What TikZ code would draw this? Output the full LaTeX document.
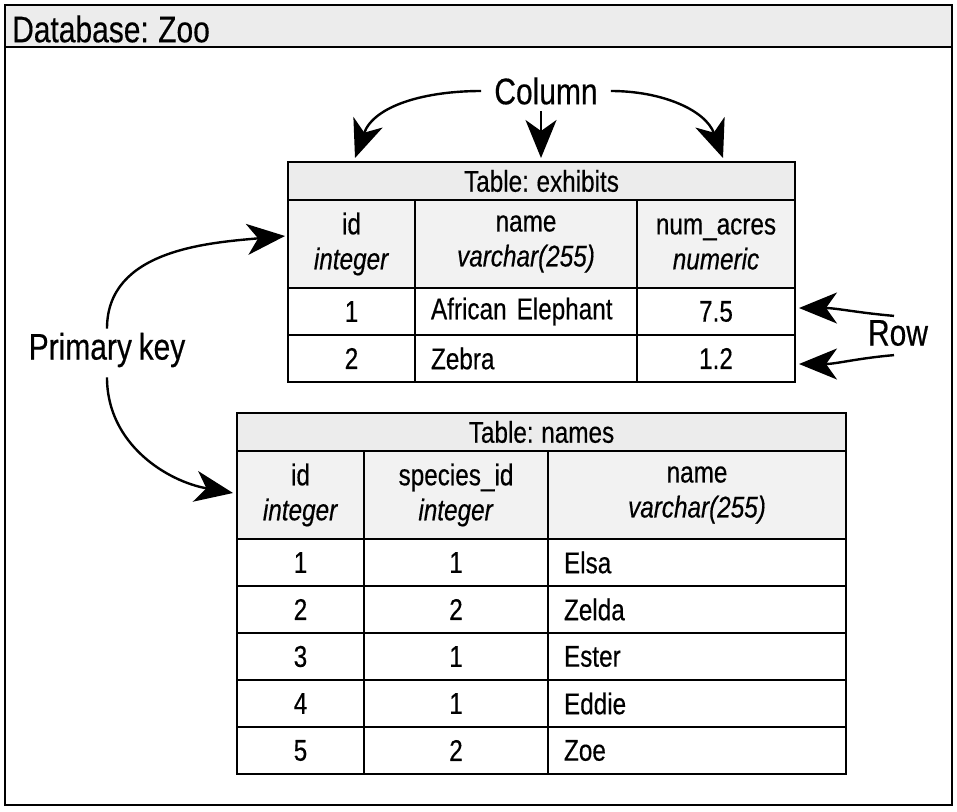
\documentclass[tikz,border=0pt]{standalone}
\usepackage{fontspec}
\setmainfont{Liberation Sans}[FakeStretch=0.81, FakeBold=0.4, WordSpace=0.8]
\usetikzlibrary{arrows.meta, positioning}

\begin{document}
\begin{tikzpicture}[
            x=1pt, y=-1pt,
            node distance=0pt and 0pt,
            every node/.style={font=\fontsize{30}{35}\selectfont},
            bigtext/.style={
                    font=\fontsize{37}{42}\selectfont,
                    inner sep=4pt
                },
            bodycell/.style={
                    draw,
                    line width=1.6pt,
                    minimum height=47pt,
                    inner sep=0pt,
                    outer sep=0pt,
                    align=center
                },
            leftcell/.style={
                    bodycell,
                    align=left,
                    inner xsep=16pt
                },
            headcell/.style={
                    bodycell,
                    minimum height=88pt,
                    fill=gray!10
                },
            titlecell/.style={
                    bodycell,
                    minimum height=38pt,
                    fill=gray!15
                },
            arrow/.style={
                    line width=2.4pt,
                    -{Stealth[length=38pt, width=31pt, inset=11pt]}
                }
        ]

        \useasboundingbox (0,0) rectangle (957,811);

        % database frame
        \draw[line width=2.4pt, fill=gray!15] (5,5) rectangle (952,47);
        \draw[line width=2.4pt] (5,5) rectangle (952,805);
        \node[bigtext, anchor=west] (db) at (8,29) {Database: Zoo};

        % table: exhibits
        \node[titlecell, minimum width=507pt, anchor=north west] (ex-title) at (288,162) {Table: exhibits};

        \node[headcell, minimum width=127pt, below right=of ex-title.south west] (ex-id) {id\\\textit{integer}};
        \node[headcell, minimum width=222pt, right=of ex-id] (ex-name) {name\\\textit{varchar(255)}};
        \node[headcell, minimum width=158pt, right=of ex-name] (ex-acres) {num\_acres\\\textit{numeric}};

        \node[bodycell, minimum width=127pt, below=of ex-id] (ex-id1) {1};
        \node[leftcell, text width=190pt, below=of ex-name] (ex-name1) {African Elephant};
        \node[bodycell, minimum width=158pt, below=of ex-acres] (ex-acres1) {7.5};

        \node[bodycell, minimum width=127pt, below=of ex-id1] (ex-id2) {2};
        \node[leftcell, text width=190pt, below=of ex-name1] (ex-name2) {Zebra};
        \node[bodycell, minimum width=158pt, below=of ex-acres1] (ex-acres2) {1.2};

        % table: names
        \node[titlecell, minimum width=609pt, anchor=north west] (nm-title) at (237,413) {Table: names};

        \node[headcell, minimum width=127pt, below right=of nm-title.south west] (nm-id) {id\\\textit{integer}};
        \node[headcell, minimum width=184pt, right=of nm-id] (nm-species) {species\_id\\\textit{integer}};
        \node[headcell, minimum width=298pt, right=of nm-species] (nm-name) {name\\\textit{varchar(255)}};

        \node[bodycell, minimum width=127pt, below=of nm-id] (nm-id1) {1};
        \node[bodycell, minimum width=184pt, below=of nm-species] (nm-species1) {1};
        \node[leftcell, text width=266pt, below=of nm-name] (nm-name1) {Elsa};

        \node[bodycell, minimum width=127pt, below=of nm-id1] (nm-id2) {2};
        \node[bodycell, minimum width=184pt, below=of nm-species1] (nm-species2) {2};
        \node[leftcell, text width=266pt, below=of nm-name1] (nm-name2) {Zelda};

        \node[bodycell, minimum width=127pt, below=of nm-id2] (nm-id3) {3};
        \node[bodycell, minimum width=184pt, below=of nm-species2] (nm-species3) {1};
        \node[leftcell, text width=266pt, below=of nm-name2] (nm-name3) {Ester};

        \node[bodycell, minimum width=127pt, below=of nm-id3] (nm-id4) {4};
        \node[bodycell, minimum width=184pt, below=of nm-species3] (nm-species4) {1};
        \node[leftcell, text width=266pt, below=of nm-name3] (nm-name4) {Eddie};

        \node[bodycell, minimum width=127pt, below=of nm-id4] (nm-id5) {5};
        \node[bodycell, minimum width=184pt, below=of nm-species4] (nm-species5) {2};
        \node[leftcell, text width=266pt, below=of nm-name4] (nm-name5) {Zoe};

        % callouts
        \node[bigtext] (column) at (546,91) {Column};
        \node[bigtext] (row) at (898,333) {Row};
        \node[bigtext] (pkey) at (107,350) {Primary key};

        \coordinate (col-id) at (355,158);
        \coordinate (col-name) at (541,158);
        \coordinate (col-acres) at (723,158);
        \coordinate (row-one) at (799,308);
        \coordinate (row-two) at (799,364);
        \coordinate (pk-ex) at (285,236);
        \coordinate (pk-nm) at (233,493);

        \draw[arrow] ([xshift=-9pt]column.west) to[out=180, in=70] (col-id);
        \draw[arrow] ([yshift=-2pt]column.south -| col-name) -- (col-name);
        \draw[arrow] ([xshift=9pt]column.east) to[out=0, in=110] (col-acres);

        \draw[arrow] ([xshift=-4pt]row.north) to[out=175, in=0] (row-one);
        \draw[arrow] ([xshift=-4pt, yshift=-5pt]row.south) to[out=185, in=0] (row-two);

        \draw[arrow] (pkey.north) to[out=90, in=185] (pk-ex);
        \draw[arrow] ([yshift=-6pt]pkey.south) to[out=-90, in=170] (pk-nm);

    \end{tikzpicture}
\end{document}
